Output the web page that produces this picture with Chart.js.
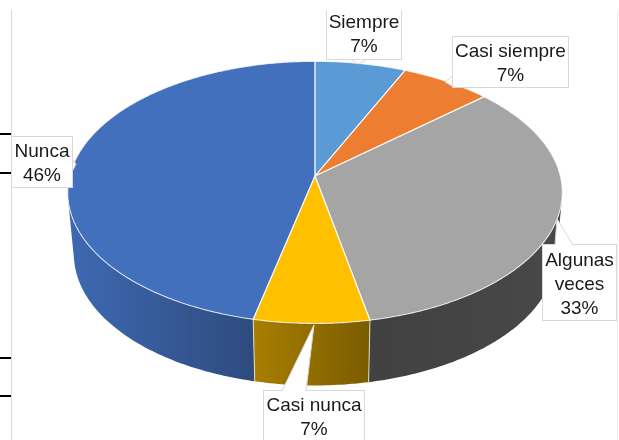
<!DOCTYPE html>
<html>
<head>
<meta charset="utf-8">
<style>html,body{margin:0;padding:0;background:#fff}canvas{display:block}</style>
<script src="https://cdn.jsdelivr.net/npm/chart.js@4"></script>
</head>
<body>
<canvas id="c" width="619" height="440"></canvas>
<script>
const categories = ['Siempre', 'Casi siempre', 'Algunas veces', 'Casi nunca', 'Nunca'];
const percents = [6.7, 6.7, 33.45, 6.7, 46.45];
const topColors = ['#5b9bd5', '#ed7d31', '#a5a5a5', '#ffc000', '#4270bd'];
const wallColors = [
  ['#4a80b0', '#4a80b0'], ['#b05c24', '#b05c24'], ['#484848', '#414141'],
  ['#a97e00', '#7a5c00'], ['#3e69b2', '#2e4b7e']
];

// Perspective of the tilted disc, expressed relative to the pie element's radius
const persp = {k: 0.125, sx: 1.394, sy: 0.733, depth: 62, shrink: 0.975};

// Callout boxes: one per category, same order
const callouts = [
  {box: [326, 9, 76, 51], tip: [[352, 60], [358, 64], [366, 60]], lines: ['Siempre'], y: 23},
  {box: [452, 36, 117, 52], tip: [[452, 76], [445, 82], [452, 86]], lines: ['Casi siempre'], y: 52},
  {box: [542, 244, 75, 77], tip: [[555, 245], [557, 219], [573, 245]], lines: ['Algunas', 'veces'], y: 261},
  {box: [263, 390, 102, 54], tip: [[282, 391], [314, 325], [306, 391]], lines: ['Casi nunca'], y: 406},
  {box: [11, 136, 62, 52], tip: [[73, 160], [76, 164], [73, 170]], lines: ['Nunca'], y: 152}
];
const frameColor = '#d9d9d9';

function project(el, a) {
  const u = Math.cos(a), v = Math.sin(a), w = 1 - persp.k * v;
  const R = el.outerRadius;
  return [el.x + R * persp.sx * u / w, el.y + R * persp.sy * v / w];
}
function lower(el, p) {
  return [el.x + (p[0] - el.x) * persp.shrink, p[1] + persp.depth];
}
function slicePath(c, el) {
  const steps = Math.max(2, Math.ceil((el.endAngle - el.startAngle) / 0.01));
  c.beginPath();
  c.moveTo(el.x, el.y);
  for (let s = 0; s <= steps; s++) {
    const p = project(el, el.startAngle + (el.endAngle - el.startAngle) * s / steps);
    c.lineTo(p[0], p[1]);
  }
  c.closePath();
}

const pie3d = {
  id: 'pie3d',
  beforeDraw(chart) {
    const c = chart.ctx;
    c.save();
    c.fillStyle = '#fff';
    c.fillRect(0, 0, 619, 440);
    c.fillStyle = frameColor;
    c.fillRect(11, 10, 1, 430);
    c.fillStyle = '#eeeeee';
    c.fillRect(617, 10, 1, 430);
    c.fillStyle = '#000';
    [133, 172, 357, 395].forEach(y => c.fillRect(0, y, 11, 2));
    c.restore();
  },
  beforeDatasetsDraw(chart) {
    const c = chart.ctx;
    const els = chart.getDatasetMeta(0).data;
    c.save();
    // side walls: only the faces turned to the viewer, as one path per slice
    [2, 4, 3].forEach(i => {
      const el = els[i];
      const steps = Math.max(2, Math.ceil((el.endAngle - el.startAngle) / 0.015));
      const pts = [];
      for (let s = 0; s <= steps; s++) pts.push(project(el, el.startAngle + (el.endAngle - el.startAngle) * s / steps));
      let minX = Infinity, maxX = -Infinity;
      c.beginPath();
      for (let s = 0; s < steps; s++) {
        const a = pts[s], b = pts[s + 1], la = lower(el, a), lb = lower(el, b);
        const q = [a, b, lb, la];
        let area = 0;
        q.forEach((p, j) => { const n = q[(j + 1) % 4]; area += p[0] * n[1] - n[0] * p[1]; });
        if (area >= 0) continue;
        c.moveTo(a[0], a[1]); c.lineTo(b[0], b[1]); c.lineTo(lb[0], lb[1]); c.lineTo(la[0], la[1]);
        c.closePath();
        [a, b].forEach(p => { minX = Math.min(minX, p[0]); maxX = Math.max(maxX, p[0]); });
      }
      const g = c.createLinearGradient(minX, 0, maxX, 0);
      const stops = i === 2 ? [wallColors[i][1], wallColors[i][0]] : wallColors[i];
      g.addColorStop(0, stops[0]);
      g.addColorStop(1, stops[1]);
      c.fillStyle = g;
      c.fill();
    });
    // wall seams at the front
    c.strokeStyle = 'rgba(240,235,215,0.85)';
    c.lineWidth = 1;
    [2, 3].forEach(i => {
      const p = project(els[i], els[i].endAngle), q = lower(els[i], p);
      c.beginPath(); c.moveTo(p[0], p[1]); c.lineTo(q[0], q[1]); c.stroke();
    });
    // top faces
    els.forEach(el => {
      slicePath(c, el);
      c.fillStyle = el.options.backgroundColor;
      c.fill();
    });
    els.forEach(el => {
      slicePath(c, el);
      c.strokeStyle = 'rgba(255,255,255,0.75)';
      c.lineWidth = 1.1;
      c.stroke();
    });
    c.restore();
    return false;
  },
  afterDraw(chart) {
    const c = chart.ctx;
    c.save();
    c.beginPath();
    c.rect(0, 10, 619, 430);
    c.clip();
    c.font = '19px "Liberation Sans", Arial, sans-serif';
    c.textAlign = 'center';
    c.textBaseline = 'middle';
    callouts.forEach((co, i) => {
      const [x, y, w, h] = co.box;
      c.fillStyle = '#fff';
      c.strokeStyle = frameColor;
      c.lineWidth = 1;
      c.fillRect(x, y, w, h);
      c.strokeRect(x + 0.5, y + 0.5, w - 1, h - 1);
      c.beginPath();
      co.tip.forEach((p, j) => j ? c.lineTo(p[0], p[1]) : c.moveTo(p[0], p[1]));
      c.closePath();
      c.fill();
      c.beginPath();
      c.moveTo(co.tip[0][0], co.tip[0][1]);
      c.lineTo(co.tip[1][0], co.tip[1][1]);
      c.lineTo(co.tip[2][0], co.tip[2][1]);
      c.stroke();
      c.fillStyle = '#1a1a1a';
      const cx = x + w / 2;
      const rows = co.lines.concat([Math.round(percents[i]) + '%']);
      rows.forEach((t, r) => c.fillText(t, cx, co.y + r * 24));
    });
    c.restore();
  }
};

new Chart(document.getElementById('c'), {
  type: 'pie',
  data: {
    labels: categories,
    datasets: [{data: percents, backgroundColor: topColors, borderWidth: 0}]
  },
  options: {
    responsive: false,
    animation: false,
    layout: {padding: {left: 11, right: 0, top: 0, bottom: 88}},
    plugins: {legend: {display: false}, tooltip: {enabled: false}, title: {display: false}}
  },
  plugins: [pie3d]
});
</script>
</body>
</html>
